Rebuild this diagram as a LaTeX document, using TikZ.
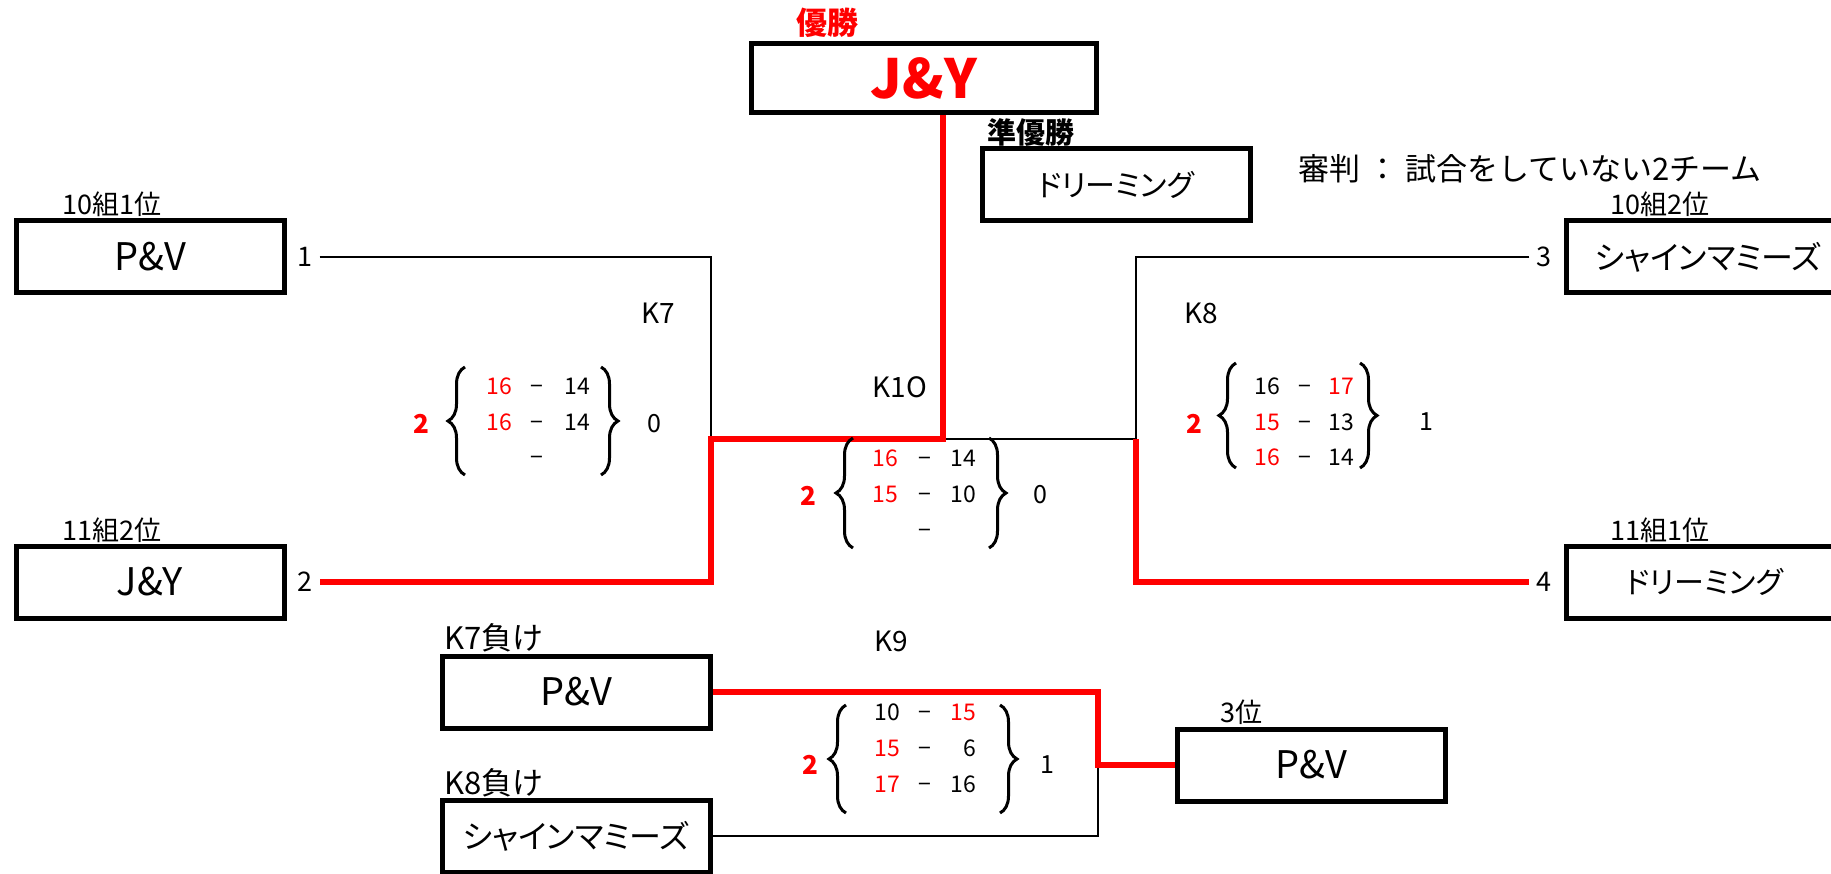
\documentclass[tikz,border=0pt]{standalone}
\usepackage{fontspec}
\setmainfont{Noto Sans CJK JP}[RawFeature=+palt]
\newfontfamily\jpfull{Noto Sans CJK JP}
\usetikzlibrary{decorations.pathreplacing}

\tikzset{
  team/.style={draw, line width=5pt, minimum width=268pt, minimum height=72pt,
    inner sep=0pt, font=\fontsize{38}{40}\selectfont},
  kana/.style={font=\fontsize{32}{34}\selectfont},
  tag/.style={inner sep=0pt, font=\jpfull\fontsize{27}{29}\selectfont},
  game/.style={inner sep=0pt, font=\fontsize{28}{30}\selectfont},
  num/.style={inner sep=7pt, font=\fontsize{27}{29}\selectfont},
  pt/.style={inner sep=0pt, font=\fontsize{23}{25}\selectfont},
  won/.style={inner sep=0pt, text=red, font=\bfseries\fontsize{26}{28}\selectfont},
  lost/.style={inner sep=0pt, font=\fontsize{25}{27}\selectfont},
  brc/.style={decorate, decoration={brace, amplitude=17pt}, line width=3pt},
  bline/.style={line width=2pt},
  rline/.style={red, line width=6pt}
}

\begin{document}
\begin{tikzpicture}[x=1pt,y=-1pt]
\useasboundingbox (0,0) rectangle (1831,874);

% final
\node[team, minimum width=345pt, minimum height=69pt, text=red,
  font=\bfseries\fontsize{54}{56}\selectfont] (champ) at (924,78) {J\&Y};
\node[tag, text=red, font=\bfseries\fontsize{31}{33}\selectfont] (champtag) at (827,23) {優勝};
\node[team, kana, font=\fontsize{30}{32}\selectfont] (second) at (1116,185) {ドリーミング};
\node[tag, font=\bfseries\fontsize{29}{31}\selectfont] (secondtag) at (1031,132) {準優勝};
\node[tag, anchor=west, font=\jpfull\fontsize{31}{33}\selectfont] (referee) at (1298,169) {審判 ： 試合をしていない2チーム};

% teams
\node[team] (t1) at (150,257) {P\&V};
\node[team] (t2) at (150,582) {J\&Y};
\node[team, kana, minimum width=276pt, anchor=west] (t3) at (1564,257) {\hspace{7pt}シャインマミーズ};
\node[team, kana, font=\fontsize{30}{32}\selectfont, minimum width=276pt, anchor=west] (t4) at (1564,582) {ドリーミング};
\node[tag] (t1tag) at (112,204) {10組1位};
\node[tag] (t2tag) at (112,530) {11組2位};
\node[tag] (t3tag) at (1660,204) {10組2位};
\node[tag] (t4tag) at (1660,530) {11組1位};
\node[num] (n1) at (305,257) {1};
\node[num] (n2) at (305,582) {2};
\node[num] (n3) at (1544,257) {3};
\node[num] (n4) at (1544,582) {4};

% third place
\node[team] (l7) at (576,692) {P\&V};
\node[team, kana] (l8) at (576,836) {シャインマミーズ};
\node[tag, anchor=west, font=\jpfull\fontsize{31}{33}\selectfont] (l7tag) at (444,638) {K7負け};
\node[tag, anchor=west, font=\jpfull\fontsize{31}{33}\selectfont] (l8tag) at (444,783) {K8負け};
\node[team] (third) at (1311,765) {P\&V};
\node[tag, anchor=west] (thirdtag) at (1220,712) {3位};

% games
\node[game] (g7) at (658,313) {K7};
\node[game] (g8) at (1201,313) {K8};
\node[game] (g10) at (900,387) {K1O};
\node[game] (g9) at (891,641) {K9};

\coordinate (j7) at (711,439);
\coordinate (j8) at (1136,439);
\coordinate (j10) at (943,439);
\coordinate (j9) at (1098,765);

\draw[bline] (n1.east) -| (j7);
\draw[bline] (n3.west) -| (j8);
\draw[bline] (j10) -- (j8);
\draw[bline] (l8.east) -| (j9);
\draw[rline] (j10 |- champ.south) -- (j10) -- (j7) |- (n2.east);
\draw[rline] (j8) |- (n4.west);
\draw[rline] (l7.east) -| (j9) -- (third.west);

% scores K7
\node[won] (k7w) at (421,424) {2};
\draw[brc] (465,475) -- (465,367);
\foreach \l/\lc/\r/\rc [count=\i] in {16/red/14/black, 16/red/14/black, /black//black} {
  \node[pt, text=\lc, anchor=base east] (k7a\i) at (512,360+35*\i) {\l};
  \node[pt, anchor=base] (k7d\i) at (537,360+35*\i) {−};
  \node[pt, text=\rc, anchor=base east] (k7b\i) at (590,360+35*\i) {\r};
}
\draw[brc] (601,367) -- (601,475);
\node[lost] (k7l) at (654,424) {0};

% scores K10
\node[won] (k10w) at (808,496) {2};
\draw[brc] (853,548) -- (853,438);
\foreach \l/\lc/\r/\rc [count=\i] in {16/red/14/black, 15/red/10/black, /black//black} {
  \node[pt, text=\lc, anchor=base east] (k10a\i) at (898,430+36*\i) {\l};
  \node[pt, anchor=base] (k10d\i) at (925,430+36*\i) {−};
  \node[pt, text=\rc, anchor=base east] (k10b\i) at (976,430+36*\i) {\r};
}
\draw[brc] (989,438) -- (989,548);
\node[lost] (k10l) at (1040,495) {0};

% scores K8
\node[won] (k8w) at (1194,424) {2};
\draw[brc] (1236,468) -- (1236,363);
\foreach \l/\lc/\r/\rc [count=\i] in {16/black/17/red, 15/red/13/black, 16/red/14/black} {
  \node[pt, text=\lc, anchor=base east] (k8a\i) at (1280,360+35*\i) {\l};
  \node[pt, anchor=base] (k8d\i) at (1305,360+35*\i) {−};
  \node[pt, text=\rc, anchor=base east] (k8b\i) at (1354,360+35*\i) {\r};
}
\draw[brc] (1360,363) -- (1360,468);
\node[lost] (k8l) at (1426,422) {1};

% scores K9
\node[won] (k9w) at (810,765) {2};
\draw[brc] (846,813) -- (846,705);
\foreach \l/\lc/\r/\rc [count=\i] in {10/black/15/red, 15/red/6/black, 17/red/16/black} {
  \node[pt, text=\lc, anchor=base east] (k9a\i) at (900,684+36*\i) {\l};
  \node[pt, anchor=base] (k9d\i) at (925,684+36*\i) {−};
  \node[pt, text=\rc, anchor=base east] (k9b\i) at (976,684+36*\i) {\r};
}
\draw[brc] (1000,705) -- (1000,813);
\node[lost] (k9l) at (1047,765) {1};

\end{tikzpicture}
\end{document}
